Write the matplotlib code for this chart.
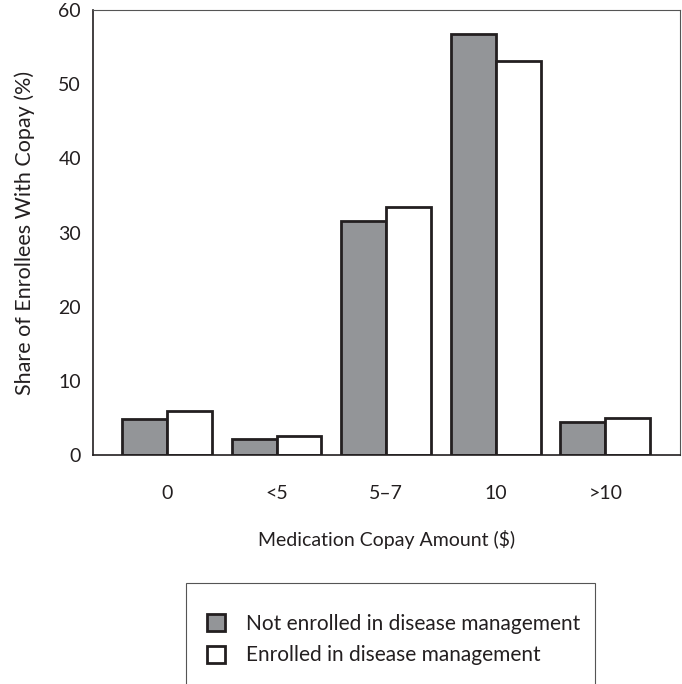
import numpy as np
import matplotlib.pyplot as plt
from matplotlib.patches import Rectangle, Patch

plt.rcParams['font.family'] = ['Lato', 'DejaVu Sans']

categories = ['0', '<5', '5–7', '10', '>10']
not_enrolled = [4.9, 2.1, 31.6, 56.8, 4.5]
enrolled = [5.9, 2.6, 33.4, 53.1, 5.0]

gray = '#939598'
edge = '#231f20'

fig = plt.figure(figsize=(6.82, 6.84), dpi=100)
ax = fig.add_axes([0.137, 0.335, 0.86, 0.65])

x = np.arange(len(categories))
w = 0.41
ax.bar(x - w / 2, not_enrolled, w, color=gray, edgecolor=edge, linewidth=2)
ax.bar(x + w / 2, enrolled, w, color='white', edgecolor=edge, linewidth=2)

ax.set_xlim(-0.67, 4.68)
ax.set_ylim(0, 60)
ax.set_yticks(range(0, 61, 10))
ax.set_xticks(x)
ax.set_xticklabels(categories)
ax.tick_params(axis='both', length=0, labelsize=14, colors='#231f20')
ax.tick_params(axis='x', pad=22)
ax.tick_params(axis='y', pad=9)

for s in ['top', 'right']:
    ax.spines[s].set_color('#555555')
    ax.spines[s].set_linewidth(0.8)
for s in ['left', 'bottom']:
    ax.spines[s].set_color('#231f20')
    ax.spines[s].set_linewidth(1.2)

ax.set_xlabel('Medication Copay Amount ($)', fontsize=14, labelpad=20, color='#231f20')
ax.set_ylabel('Share of Enrollees With Copay (%)', fontsize=15.5, labelpad=17, color='#231f20')

# caja de la leyenda, cortada por abajo como en la original
fig.patches.append(Rectangle((186 / 682, -0.02), (595 - 186) / 682, (684 - 583) / 684 + 0.02,
                             transform=fig.transFigure, fill=False,
                             edgecolor='#555555', linewidth=0.8))

handles = [Patch(facecolor=gray, edgecolor=edge, linewidth=2),
           Patch(facecolor='white', edgecolor=edge, linewidth=2)]
labels = ['Not enrolled in disease management', 'Enrolled in disease management']
fig.legend(handles, labels, loc='upper left', bbox_to_anchor=(207 / 682, 1 - 614 / 684),
           frameon=False, fontsize=15, handlelength=0.85, handleheight=0.85,
           handletextpad=1.0, labelspacing=0.55, borderpad=0, borderaxespad=0,
           labelcolor='#231f20')

fig.savefig('out.png', dpi=100)
